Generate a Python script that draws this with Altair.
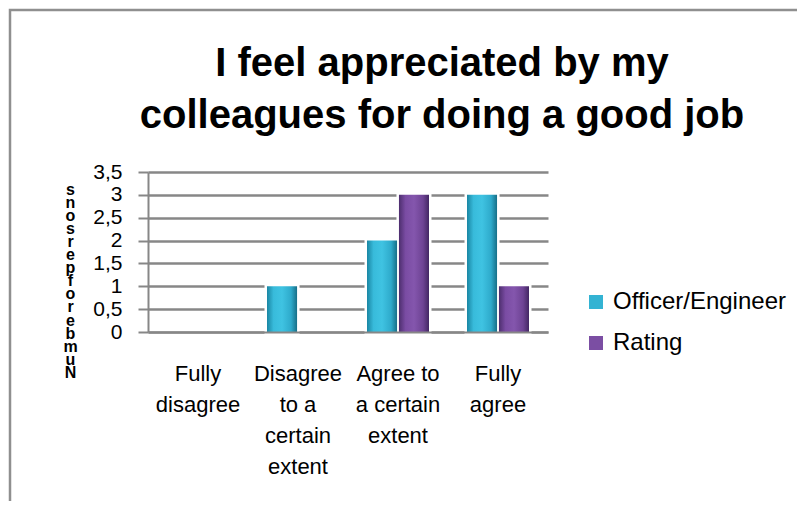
import altair as alt
import pandas as pd

# ---- data ----
categories = ["Fully disagree", "Disagree to a certain extent", "Agree to a certain extent", "Fully agree"]
category_lines = [["Fully", "disagree"], ["Disagree", "to a", "certain", "extent"],
                  ["Agree to", "a certain", "extent"], ["Fully", "agree"]]
series = ["Officer/Engineer", "Rating"]
officer_values = [0, 1, 2, 3]
rating_values = [0, 0, 3, 1]
y_ticks = [0, 0.5, 1, 1.5, 2, 2.5, 3, 3.5]
title_lines = ["I feel appreciated by my", "colleagues for doing a good job"]
y_title = "Number of persons"
series_colors = ["#33b3d3", "#7b4ea3"]

rows = []
for c, o, r in zip(categories, officer_values, rating_values):
    rows.append({"category": c, "series": series[0], "value": o})
    rows.append({"category": c, "series": series[1], "value": r})
df = pd.DataFrame(rows)

# multi-line x labels
expr = "datum.label"
for c, lines in reversed(list(zip(categories, category_lines))):
    arr = "[" + ", ".join("'" + l + "'" for l in lines) + "]"
    expr = f"datum.label == '{c}' ? {arr} : ({expr})"

# stacked (garbled) y-axis title, letters top to bottom
stack = list(reversed(y_title))

FONT = "Liberation Sans"
GRID = "#878787"

x_enc = alt.X("category:N", sort=categories,
              scale=alt.Scale(domain=categories, paddingInner=0.38, paddingOuter=0.19),
              axis=alt.Axis(title=None, labelAngle=0, labelExpr=expr, labelFontSize=22,
                            labelLineHeight=31, labelPadding=31, labelBaseline="top",
                            labelLimit=0, ticks=False, domainColor=GRID, domainWidth=2,
                            labelColor="black", zindex=1))
xoff_enc = alt.XOffset("series:N", sort=series,
                       scale=alt.Scale(domain=series, paddingInner=0.06, paddingOuter=0))
y_enc = alt.Y("value:Q", scale=alt.Scale(domain=[0, 3.5], nice=False),
              axis=alt.Axis(values=y_ticks,
                            labelExpr="replace(format(datum.value, '~g'), '.', ',')",
                            labelOverlap=False, labelBound=False, labelFlush=False,
                            grid=True, gridColor=GRID, gridWidth=2.5,
                            tickColor=GRID, tickSize=10, tickWidth=2,
                            domainColor=GRID, domainWidth=2,
                            labelFontSize=21, labelPadding=16, labelColor="black",
                            title=stack, titleAngle=0, titleX=-78, titleY=9,
                            titleAlign="center", titleBaseline="top",
                            titleFontSize=16, titleFontWeight="bold", titleLineHeight=13.1,
                            titleColor="black"))

base = alt.Chart(df).transform_filter("datum.value > 0").encode(x=x_enc, xOffset=xoff_enc, y=y_enc)

halo = base.mark_bar(stroke="white", strokeWidth=5).encode(
    color=alt.Color("series:N", sort=series,
                    scale=alt.Scale(domain=series, range=series_colors),
                    legend=alt.Legend(title=None, orient="none", legendX=436, legendY=118,
                                      symbolType="square", symbolSize=196,
                                      symbolStrokeWidth=0, labelFontSize=24,
                                      labelOffset=5, rowPadding=17, labelColor="black",
                                      labelLimit=0))
)

grad_off = alt.LinearGradient(gradient="linear", x1=0, x2=1, y1=0, y2=0, stops=[
    alt.GradientStop(color="#1a86a3", offset=0),
    alt.GradientStop(color="#38bbdb", offset=0.22),
    alt.GradientStop(color="#3fc3e2", offset=0.5),
    alt.GradientStop(color="#2eaacb", offset=0.8),
    alt.GradientStop(color="#176f88", offset=1)])
grad_rat = alt.LinearGradient(gradient="linear", x1=0, x2=1, y1=0, y2=0, stops=[
    alt.GradientStop(color="#4d2e6e", offset=0),
    alt.GradientStop(color="#7a4ca3", offset=0.22),
    alt.GradientStop(color="#8456ad", offset=0.5),
    alt.GradientStop(color="#6e4394", offset=0.8),
    alt.GradientStop(color="#432763", offset=1)])

off_bars = base.transform_filter(f"datum.series == '{series[0]}'").mark_bar(color=grad_off)
rat_bars = base.transform_filter(f"datum.series == '{series[1]}'").mark_bar(color=grad_rat)

border = alt.Chart(pd.DataFrame({"b": [0]})).mark_rect(
    fill="transparent", stroke="#8f8f8f", strokeWidth=2.5).encode(
    x=alt.value(-138), x2=alt.value(700), y=alt.value(-162), y2=alt.value(400))

chart = alt.layer(halo, off_bars, rat_bars, border).properties(
    width=400, height=160,
    padding={"left": 140, "top": 164, "right": 249, "bottom": 169},
    autosize=alt.AutoSizeParams(type="none"),
    title=alt.TitleParams(text=title_lines, font=FONT, fontSize=40, fontWeight="bold",
                          anchor="middle", dx=94, offset=0, dy=127, lineHeight=52,
                          color="black"),
).configure(font=FONT).configure_view(stroke=None)

chart.save("out.html", embed_options={"renderer": "svg", "actions": False})
